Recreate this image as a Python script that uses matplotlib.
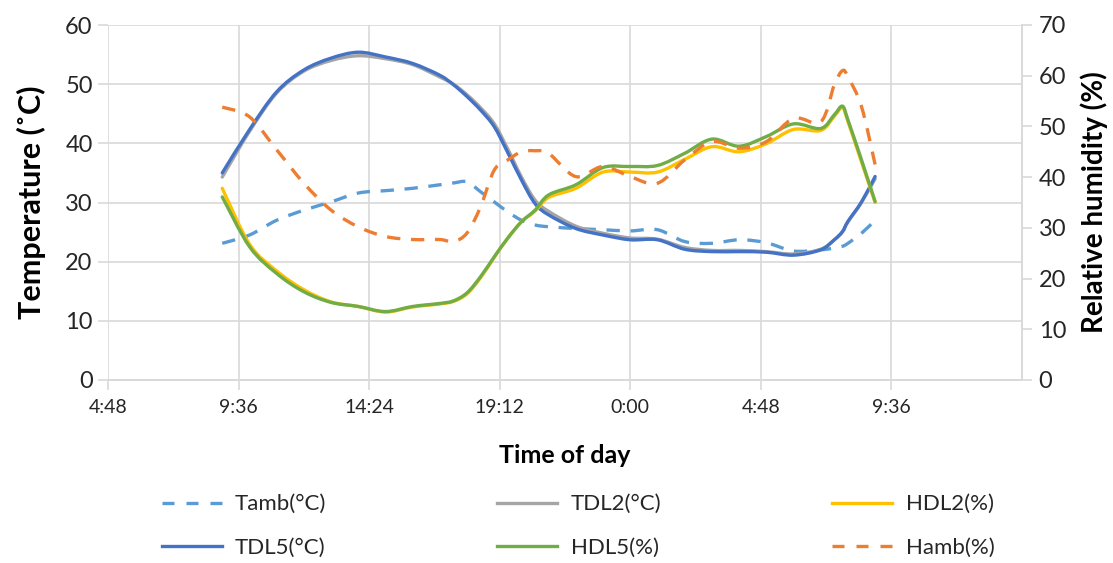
import matplotlib
matplotlib.use("Agg")
import matplotlib.pyplot as plt
from matplotlib.path import Path
from matplotlib.patches import PathPatch
from matplotlib.lines import Line2D
import numpy as np

# time of day in hours (9:00 day 1 -> 9:00 day 2)
hours = [9, 10, 11, 12, 13, 14, 15, 16, 17, 17.5, 18, 18.5, 19, 19.5, 20, 20.5,
         21, 22, 23, 24, 25, 26, 27, 28, 29, 30, 31, 31.5, 31.8, 32, 32.5, 33]

tamb = [23.1, 24.5, 27.0, 28.7, 30.1, 31.6, 32.0, 32.4, 33.0, 33.3, 33.5, 31.8, 30.1, 28.4, 27.0, 26.2,
        25.9, 25.6, 25.4, 25.2, 25.4, 23.4, 23.1, 23.7, 23.2, 21.8, 22.0, 22.3, 22.6, 23.1, 24.8, 27.0]
tdl2 = [34.3, 42.0, 48.5, 52.2, 54.0, 54.8, 54.3, 53.3, 51.2, 50.0, 48.2, 46.0, 43.3, 39.0, 34.3, 30.4,
        28.5, 26.0, 24.8, 24.0, 23.8, 22.4, 21.9, 21.9, 21.7, 21.3, 22.1, 23.7, 25.0, 26.7, 30.0, 34.0]
tdl5 = [35.0, 42.3, 48.7, 52.4, 54.4, 55.4, 54.6, 53.5, 51.5, 49.9, 47.9, 45.6, 42.8, 38.4, 33.8, 29.8,
        27.9, 25.6, 24.5, 23.7, 23.7, 22.1, 21.7, 21.7, 21.6, 21.1, 22.0, 23.7, 25.1, 26.8, 30.1, 34.4]
hdl2 = [37.8, 26.8, 21.5, 17.8, 15.4, 14.5, 13.4, 14.4, 15.0, 15.5, 17.0, 20.2, 24.2, 28.0, 31.2, 33.3,
        36.0, 37.8, 41.0, 41.0, 41.0, 43.5, 46.0, 45.0, 46.6, 49.4, 49.2, 52.0, 53.7, 51.0, 43.0, 35.0]
hdl5 = [36.1, 26.3, 21.0, 17.4, 15.3, 14.5, 13.5, 14.5, 15.1, 15.6, 17.2, 20.4, 24.3, 28.0, 31.2, 33.5,
        36.5, 38.5, 41.9, 42.1, 42.3, 44.7, 47.5, 46.1, 48.0, 50.5, 49.6, 52.3, 54.0, 51.3, 43.4, 35.2]
hamb = [53.8, 51.9, 45.4, 38.8, 33.5, 30.2, 28.3, 27.7, 27.7, 27.3, 29.0, 34.2, 41.4, 43.4, 45.0, 45.2,
        44.7, 40.1, 42.1, 40.1, 38.8, 43.4, 47.0, 45.7, 47.0, 51.6, 50.9, 58.2, 61.0, 59.8, 53.9, 42.5]

xtick_pos = [0.2, 0.4, 0.6, 0.8, 1.0, 1.2, 1.4]
xtick_labels = ["4:48", "9:36", "14:24", "19:12", "0:00", "4:48", "9:36"]

t = np.array(hours) / 24.0

plt.rcParams['font.family'] = ['Lato', 'DejaVu Sans']


def smooth_path(x, y):
    """Excel-style smoothed line: Catmull-Rom curve through the data points."""
    x = np.asarray(x, float)
    y = np.asarray(y, float)
    n = len(x)
    verts = [(x[0], y[0])]
    codes = [Path.MOVETO]
    for i in range(n - 1):
        i0 = max(i - 1, 0)
        i3 = min(i + 2, n - 1)
        c1 = (x[i] + (x[i + 1] - x[i0]) / 6.0, y[i] + (y[i + 1] - y[i0]) / 6.0)
        c2 = (x[i + 1] - (x[i3] - x[i]) / 6.0, y[i + 1] - (y[i3] - y[i]) / 6.0)
        verts += [c1, c2, (x[i + 1], y[i + 1])]
        codes += [Path.CURVE4] * 3
    return Path(verts, codes)


fig = plt.figure(figsize=(11.13, 5.63), dpi=100)
ax = fig.add_axes([108/1113, 1-380/563, (1022-108)/1113, (380-25)/563])
ax2 = ax.twinx()

grid_c = '#D9D9D9'
c_tamb, c_tdl2, c_hdl2 = '#5B9BD5', '#A5A5A5', '#FFC000'
c_tdl5, c_hdl5, c_hamb = '#4472C4', '#70AD47', '#ED7D31'

lw = 2.4
dash = (0, (4, 3.2))
series = [
    (ax, tamb, c_tamb, dash, 'Tamb(°C)'),
    (ax, tdl2, c_tdl2, '-', 'TDL2(°C)'),
    (ax, tdl5, c_tdl5, '-', 'TDL5(°C)'),
    (ax2, hdl2, c_hdl2, '-', 'HDL2(%)'),
    (ax2, hdl5, c_hdl5, '-', 'HDL5(%)'),
    (ax2, hamb, c_hamb, dash, 'Hamb(%)'),
]
handles = {}
for a, vals, col, ls, lab in series:
    p = PathPatch(smooth_path(t, vals), facecolor='none', edgecolor=col, lw=lw,
                  linestyle=ls, capstyle='round' if ls == '-' else 'butt', joinstyle='round')
    a.add_patch(p)
    handles[lab] = Line2D([], [], color=col, lw=lw,
                          ls=(0, (3.6, 3.6)) if ls != '-' else '-', label=lab)

ax.set_xlim(0.2, 1.6)
ax.set_ylim(0, 60)
ax2.set_ylim(0, 70)
ax.set_xticks(xtick_pos)
ax.set_xticklabels(xtick_labels)
ax.set_yticks(range(0, 61, 10))
ax2.set_yticks(range(0, 71, 10))

ax.grid(True, color=grid_c, lw=1.2)
ax.set_axisbelow(True)
for a in (ax, ax2):
    for s in a.spines.values():
        s.set_color(grid_c)
        s.set_linewidth(1.2)
    a.spines['top'].set_visible(False)
    a.spines['left'].set_visible(False)

lab_c = '#262626'
ax.tick_params(axis='x', colors=grid_c, labelcolor=lab_c, length=7, width=1.2, labelsize=14, pad=7)
ax.tick_params(axis='y', colors=grid_c, labelcolor=lab_c, length=7, width=1.2, labelsize=17, pad=4)
ax2.tick_params(axis='y', colors=grid_c, labelcolor=lab_c, length=7, width=1.2, labelsize=17, pad=5)

ax.set_xlabel('Time of day', fontsize=18, fontweight='bold', labelpad=20)
ax.set_ylabel('Temperature (˚C)', fontsize=22, fontweight='bold', labelpad=14)
ax2.set_ylabel('Relative humidity (%)', fontsize=20, fontweight='bold', labelpad=10)

order = ['Tamb(°C)', 'TDL5(°C)', 'TDL2(°C)', 'HDL5(%)', 'HDL2(%)', 'Hamb(%)']
hl = [handles[k] for k in order]
fig.legend(handles=hl, labels=order, ncol=3,
           loc='center', bbox_to_anchor=(578/1113, 1-526/563), frameon=False,
           fontsize=16, handlelength=2.7, handletextpad=0.6, columnspacing=7.7,
           labelspacing=1.05, labelcolor=lab_c)

fig.savefig('out.png', dpi=100)
